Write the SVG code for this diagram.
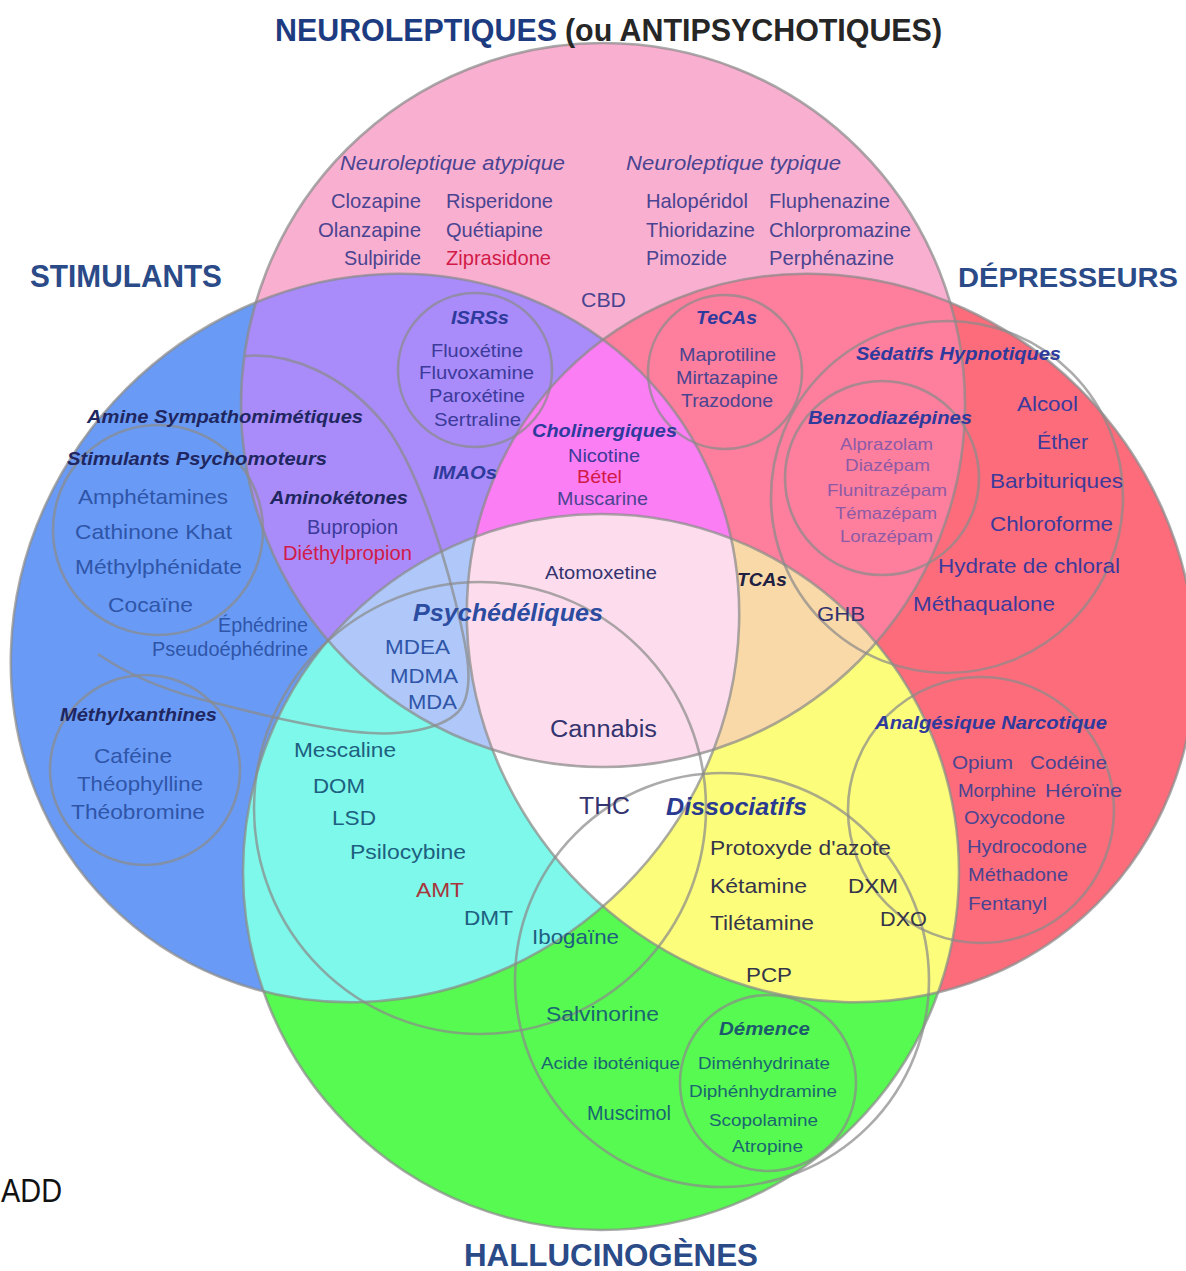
<svg xmlns="http://www.w3.org/2000/svg" width="1186" height="1271" viewBox="0 0 1186 1271">
<style>
text{font-family:"Liberation Sans",Arial,sans-serif;font-size:21px;fill:#3c3f92}
.ti{font-weight:bold;font-size:31px}
.lb{font-style:italic;font-weight:bold;font-size:19px}
.ln{font-style:italic;font-size:21px}
.s16{font-size:16px}.s17{font-size:17px}.s19{font-size:19px}.s23{font-size:23px}.s24{font-size:24px}
.nav{fill:#1d3b80}.blk{fill:#262626}.tb{fill:#2a4a88}.ad{fill:#111111}
.pk{fill:#4a4490}.bl{fill:#2f55a8}.rd{fill:#d21a48}.dk{fill:#1f2660}.lab{fill:#2e3a9c}
.tl{fill:#1d5f80}.gr{fill:#1a6670}.yl{fill:#35354a}.rr{fill:#3c3a9a}.bz{fill:#8d5aa6}
.ct{fill:#33336f}.am{fill:#a8343c}.dm{fill:#1c5a6c}
.ol{fill:none;stroke:#8a8a8a;stroke-opacity:.72;stroke-width:2.6}
</style>
<defs>
<circle id="shP" cx="603" cy="405" r="362"/>
<ellipse id="shS" cx="375" cy="638" rx="376" ry="352" transform="rotate(-45 375 638)"/>
<ellipse id="shD" cx="831" cy="638" rx="376" ry="352" transform="rotate(45 831 638)"/>
<circle id="shH" cx="601" cy="872" r="358"/>
<clipPath id="cP"><circle cx="603" cy="405" r="362"/></clipPath>
<clipPath id="cS"><ellipse cx="375" cy="638" rx="376" ry="352" transform="rotate(-45 375 638)"/></clipPath>
<clipPath id="cD"><ellipse cx="831" cy="638" rx="376" ry="352" transform="rotate(45 831 638)"/></clipPath>
<clipPath id="cH"><circle cx="601" cy="872" r="358"/></clipPath>
</defs>
<rect width="1186" height="1271" fill="#ffffff"/>
<g id="regions">
<use href="#shP" fill="#F9B0D0"/>
<use href="#shS" fill="#699BF6"/>
<use href="#shD" fill="#FD6C7B"/>
<use href="#shH" fill="#57FA50"/>
<g clip-path="url(#cS)"><use href="#shP" fill="#A98CF9"/></g>
<g clip-path="url(#cD)"><use href="#shP" fill="#FD7F9D"/></g>
<g clip-path="url(#cS)"><use href="#shH" fill="#7EF8EA"/></g>
<g clip-path="url(#cD)"><use href="#shH" fill="#FDFD7C"/></g>
<g clip-path="url(#cS)"><g clip-path="url(#cD)"><use href="#shP" fill="#FC7EF5"/></g></g>
<g clip-path="url(#cS)"><g clip-path="url(#cD)"><use href="#shH" fill="#FFFFFF"/></g></g>
<g clip-path="url(#cS)"><g clip-path="url(#cH)"><use href="#shP" fill="#AFC8F9"/></g></g>
<g clip-path="url(#cD)"><g clip-path="url(#cH)"><use href="#shP" fill="#FAD9A9"/></g></g>
<g clip-path="url(#cS)"><g clip-path="url(#cD)"><g clip-path="url(#cH)"><use href="#shP" fill="#FDDDED"/></g></g></g>
</g>
<g id="outlines">
<use href="#shP" class="ol"/>
<use href="#shS" class="ol"/>
<use href="#shD" class="ol"/>
<use href="#shH" class="ol"/>
<circle class="ol" cx="475" cy="370" r="77"/>
<circle class="ol" cx="725" cy="372" r="77"/>
<circle class="ol" cx="947" cy="497" r="176"/>
<circle class="ol" cx="882" cy="478" r="97"/>
<circle class="ol" cx="981" cy="810" r="133"/>
<circle class="ol" cx="768" cy="1083" r="88"/>
<circle class="ol" cx="722" cy="980" r="207"/>
<circle class="ol" cx="480" cy="808" r="226"/>
<circle class="ol" cx="158" cy="530" r="105"/>
<circle class="ol" cx="145" cy="770" r="95"/>
<path class="ol" d="M245,356 C290,352 345,375 385,425 C415,465 440,540 455,600 C465,640 478,690 458,712 C440,730 400,735 370,733 C320,730 250,712 200,699 C170,691 130,676 98,654"/>
</g>
<g id="titles">
<text class="ti nav" x="275" y="41" textLength="282" lengthAdjust="spacingAndGlyphs">NEUROLEPTIQUES</text>
<text class="ti blk" x="565" y="41" textLength="377" lengthAdjust="spacingAndGlyphs">(ou ANTIPSYCHOTIQUES)</text>
<text class="ti tb" x="30" y="287" textLength="192" lengthAdjust="spacingAndGlyphs">STIMULANTS</text>
<text class="ti tb" style="font-size:28px" x="958" y="287" textLength="220" lengthAdjust="spacingAndGlyphs">DÉPRESSEURS</text>
<text class="ti tb" x="464" y="1266" textLength="294" lengthAdjust="spacingAndGlyphs">HALLUCINOGÈNES</text>
<text class="ad" style="font-size:33px" x="1" y="1202" textLength="61" lengthAdjust="spacingAndGlyphs">ADD</text>
</g>
<g id="neuroleptique-atypique">
<text class="ln pk" x="340" y="170" textLength="225" lengthAdjust="spacingAndGlyphs">Neuroleptique atypique</text>
<text class="pk" x="331" y="208" textLength="90" lengthAdjust="spacingAndGlyphs">Clozapine</text>
<text class="pk" x="446" y="208" textLength="107" lengthAdjust="spacingAndGlyphs">Risperidone</text>
<text class="pk" x="318" y="237" textLength="103" lengthAdjust="spacingAndGlyphs">Olanzapine</text>
<text class="pk" x="446" y="237" textLength="97" lengthAdjust="spacingAndGlyphs">Quétiapine</text>
<text class="pk" x="344" y="265" textLength="77" lengthAdjust="spacingAndGlyphs">Sulpiride</text>
<text class="rd" x="446" y="265" textLength="105" lengthAdjust="spacingAndGlyphs">Ziprasidone</text>
</g>
<g id="neuroleptique-typique">
<text class="ln pk" x="626" y="170" textLength="215" lengthAdjust="spacingAndGlyphs">Neuroleptique typique</text>
<text class="pk" x="646" y="208" textLength="102" lengthAdjust="spacingAndGlyphs">Halopéridol</text>
<text class="pk" x="769" y="208" textLength="121" lengthAdjust="spacingAndGlyphs">Fluphenazine</text>
<text class="pk" x="646" y="237" textLength="109" lengthAdjust="spacingAndGlyphs">Thioridazine</text>
<text class="pk" x="769" y="237" textLength="142" lengthAdjust="spacingAndGlyphs">Chlorpromazine</text>
<text class="pk" x="646" y="265" textLength="81" lengthAdjust="spacingAndGlyphs">Pimozide</text>
<text class="pk" x="769" y="265" textLength="125" lengthAdjust="spacingAndGlyphs">Perphénazine</text>
<text class="pk" x="581" y="307" textLength="45" lengthAdjust="spacingAndGlyphs">CBD</text>
</g>
<g id="isrs">
<text class="lb lab" x="451" y="324" textLength="58" lengthAdjust="spacingAndGlyphs">ISRSs</text>
<text class="s19 rr" x="431" y="357" textLength="92" lengthAdjust="spacingAndGlyphs">Fluoxétine</text>
<text class="s19 rr" x="419" y="379" textLength="115" lengthAdjust="spacingAndGlyphs">Fluvoxamine</text>
<text class="s19 rr" x="429" y="402" textLength="96" lengthAdjust="spacingAndGlyphs">Paroxétine</text>
<text class="s19 rr" x="434" y="426" textLength="87" lengthAdjust="spacingAndGlyphs">Sertraline</text>
<text class="lb lab" x="433" y="479" textLength="64" lengthAdjust="spacingAndGlyphs">IMAOs</text>
</g>
<g id="amines">
<text class="lb dk" x="87" y="423" textLength="276" lengthAdjust="spacingAndGlyphs">Amine Sympathomimétiques</text>
<text class="lb dk" x="67" y="465" textLength="260" lengthAdjust="spacingAndGlyphs">Stimulants Psychomoteurs</text>
<text class="bl" x="78" y="504" textLength="150" lengthAdjust="spacingAndGlyphs">Amphétamines</text>
<text class="bl" x="75" y="539" textLength="157" lengthAdjust="spacingAndGlyphs">Cathinone Khat</text>
<text class="bl" x="75" y="574" textLength="167" lengthAdjust="spacingAndGlyphs">Méthylphénidate</text>
<text class="bl" x="108" y="612" textLength="85" lengthAdjust="spacingAndGlyphs">Cocaïne</text>
<text class="lb dk" x="270" y="504" textLength="138" lengthAdjust="spacingAndGlyphs">Aminokétones</text>
<text class="rr" x="307" y="534" textLength="91" lengthAdjust="spacingAndGlyphs">Bupropion</text>
<text class="rd" x="283" y="560" textLength="129" lengthAdjust="spacingAndGlyphs">Diéthylpropion</text>
<text class="bl" x="218" y="632" textLength="90" lengthAdjust="spacingAndGlyphs">Éphédrine</text>
<text class="bl" x="152" y="656" textLength="156" lengthAdjust="spacingAndGlyphs">Pseudoéphédrine</text>
</g>
<g id="methylxanthines">
<text class="lb dk" x="60" y="721" textLength="157" lengthAdjust="spacingAndGlyphs">Méthylxanthines</text>
<text class="bl" x="94" y="763" textLength="78" lengthAdjust="spacingAndGlyphs">Caféine</text>
<text class="bl" x="77" y="791" textLength="126" lengthAdjust="spacingAndGlyphs">Théophylline</text>
<text class="bl" x="71" y="819" textLength="134" lengthAdjust="spacingAndGlyphs">Théobromine</text>
</g>
<g id="cholinergiques">
<text class="lb lab" x="532" y="437" textLength="145" lengthAdjust="spacingAndGlyphs">Cholinergiques</text>
<text class="s19 rr" x="568" y="462" textLength="72" lengthAdjust="spacingAndGlyphs">Nicotine</text>
<text class="s19 rd" x="577" y="483" textLength="45" lengthAdjust="spacingAndGlyphs">Bétel</text>
<text class="s19 pk" x="557" y="505" textLength="91" lengthAdjust="spacingAndGlyphs">Muscarine</text>
</g>
<g id="tecas">
<text class="lb lab" x="696" y="324" textLength="61" lengthAdjust="spacingAndGlyphs">TeCAs</text>
<text class="s19 pk" x="679" y="361" textLength="97" lengthAdjust="spacingAndGlyphs">Maprotiline</text>
<text class="s19 pk" x="676" y="384" textLength="102" lengthAdjust="spacingAndGlyphs">Mirtazapine</text>
<text class="s19 pk" x="681" y="407" textLength="92" lengthAdjust="spacingAndGlyphs">Trazodone</text>
</g>
<g id="sedatifs">
<text class="lb lab" x="856" y="360" textLength="205" lengthAdjust="spacingAndGlyphs">Sédatifs Hypnotiques</text>
<text class="rr" x="1017" y="411" textLength="61" lengthAdjust="spacingAndGlyphs">Alcool</text>
<text class="rr" x="1037" y="449" textLength="51" lengthAdjust="spacingAndGlyphs">Éther</text>
<text class="rr" x="990" y="488" textLength="133" lengthAdjust="spacingAndGlyphs">Barbituriques</text>
<text class="rr" x="990" y="531" textLength="123" lengthAdjust="spacingAndGlyphs">Chloroforme</text>
<text class="rr" x="938" y="573" textLength="182" lengthAdjust="spacingAndGlyphs">Hydrate de chloral</text>
<text class="rr" x="913" y="611" textLength="142" lengthAdjust="spacingAndGlyphs">Méthaqualone</text>
</g>
<g id="benzodiazepines">
<text class="lb lab" x="808" y="424" textLength="164" lengthAdjust="spacingAndGlyphs">Benzodiazépines</text>
<text class="s17 bz" x="840" y="450" textLength="93" lengthAdjust="spacingAndGlyphs">Alprazolam</text>
<text class="s17 bz" x="845" y="471" textLength="85" lengthAdjust="spacingAndGlyphs">Diazépam</text>
<text class="s17 bz" x="827" y="496" textLength="120" lengthAdjust="spacingAndGlyphs">Flunitrazépam</text>
<text class="s17 bz" x="835" y="519" textLength="102" lengthAdjust="spacingAndGlyphs">Témazépam</text>
<text class="s17 bz" x="840" y="542" textLength="93" lengthAdjust="spacingAndGlyphs">Lorazépam</text>
</g>
<g id="centre">
<text class="s19 ct" x="545" y="579" textLength="112" lengthAdjust="spacingAndGlyphs">Atomoxetine</text>
<text class="lb" style="fill:#202040" x="737" y="586" textLength="50" lengthAdjust="spacingAndGlyphs">TCAs</text>
<text class="ct" x="817" y="621" textLength="48" lengthAdjust="spacingAndGlyphs">GHB</text>
<text class="s23 ct" x="550" y="737" textLength="107" lengthAdjust="spacingAndGlyphs">Cannabis</text>
<text class="s23 ct" x="579" y="814" textLength="51" lengthAdjust="spacingAndGlyphs">THC</text>
</g>
<g id="psychedeliques">
<text class="lb s24" style="fill:#2b4ca0" x="413" y="621" textLength="190" lengthAdjust="spacingAndGlyphs">Psychédéliques</text>
<text class="bl" x="385" y="654" textLength="65" lengthAdjust="spacingAndGlyphs">MDEA</text>
<text class="bl" x="390" y="683" textLength="68" lengthAdjust="spacingAndGlyphs">MDMA</text>
<text class="bl" x="408" y="709" textLength="49" lengthAdjust="spacingAndGlyphs">MDA</text>
<text class="tl" x="294" y="757" textLength="102" lengthAdjust="spacingAndGlyphs">Mescaline</text>
<text class="tl" x="313" y="793" textLength="52" lengthAdjust="spacingAndGlyphs">DOM</text>
<text class="tl" x="332" y="825" textLength="44" lengthAdjust="spacingAndGlyphs">LSD</text>
<text class="tl" x="350" y="859" textLength="116" lengthAdjust="spacingAndGlyphs">Psilocybine</text>
<text class="am" x="416" y="897" textLength="48" lengthAdjust="spacingAndGlyphs">AMT</text>
<text class="tl" x="464" y="925" textLength="49" lengthAdjust="spacingAndGlyphs">DMT</text>
<text class="tl" x="532" y="944" textLength="87" lengthAdjust="spacingAndGlyphs">Ibogaïne</text>
</g>
<g id="dissociatifs">
<text class="lb s23" style="fill:#2a3a90" x="666" y="815" textLength="141" lengthAdjust="spacingAndGlyphs">Dissociatifs</text>
<text class="yl" x="710" y="855" textLength="181" lengthAdjust="spacingAndGlyphs">Protoxyde d'azote</text>
<text class="yl" x="710" y="893" textLength="97" lengthAdjust="spacingAndGlyphs">Kétamine</text>
<text class="yl" x="848" y="893" textLength="50" lengthAdjust="spacingAndGlyphs">DXM</text>
<text class="yl" x="710" y="930" textLength="104" lengthAdjust="spacingAndGlyphs">Tilétamine</text>
<text class="yl" x="880" y="926" textLength="47" lengthAdjust="spacingAndGlyphs">DXO</text>
<text class="yl" x="746" y="982" textLength="46" lengthAdjust="spacingAndGlyphs">PCP</text>
<text class="gr" x="546" y="1021" textLength="113" lengthAdjust="spacingAndGlyphs">Salvinorine</text>
<text class="s16 gr" x="541" y="1069" textLength="139" lengthAdjust="spacingAndGlyphs">Acide iboténique</text>
<text class="gr" x="587" y="1120" textLength="84" lengthAdjust="spacingAndGlyphs">Muscimol</text>
</g>
<g id="demence">
<text class="lb dm" x="719" y="1035" textLength="91" lengthAdjust="spacingAndGlyphs">Démence</text>
<text class="s16 gr" x="698" y="1069" textLength="132" lengthAdjust="spacingAndGlyphs">Diménhydrinate</text>
<text class="s16 gr" x="689" y="1097" textLength="148" lengthAdjust="spacingAndGlyphs">Diphénhydramine</text>
<text class="s16 gr" x="709" y="1126" textLength="109" lengthAdjust="spacingAndGlyphs">Scopolamine</text>
<text class="s16 gr" x="732" y="1152" textLength="71" lengthAdjust="spacingAndGlyphs">Atropine</text>
</g>
<g id="analgesique-narcotique">
<text class="lb lab" x="875" y="729" textLength="232" lengthAdjust="spacingAndGlyphs">Analgésique Narcotique</text>
<text class="s19 pk" x="952" y="769" textLength="61" lengthAdjust="spacingAndGlyphs">Opium</text>
<text class="s19 pk" x="1030" y="769" textLength="77" lengthAdjust="spacingAndGlyphs">Codéine</text>
<text class="s19 pk" x="958" y="797" textLength="78" lengthAdjust="spacingAndGlyphs">Morphine</text>
<text class="s19 pk" x="1045" y="797" textLength="77" lengthAdjust="spacingAndGlyphs">Héroïne</text>
<text class="s19 pk" x="964" y="824" textLength="101" lengthAdjust="spacingAndGlyphs">Oxycodone</text>
<text class="s19 pk" x="967" y="853" textLength="120" lengthAdjust="spacingAndGlyphs">Hydrocodone</text>
<text class="s19 pk" x="968" y="881" textLength="100" lengthAdjust="spacingAndGlyphs">Méthadone</text>
<text class="s19 pk" x="968" y="910" textLength="79" lengthAdjust="spacingAndGlyphs">Fentanyl</text>
</g>
</svg>
